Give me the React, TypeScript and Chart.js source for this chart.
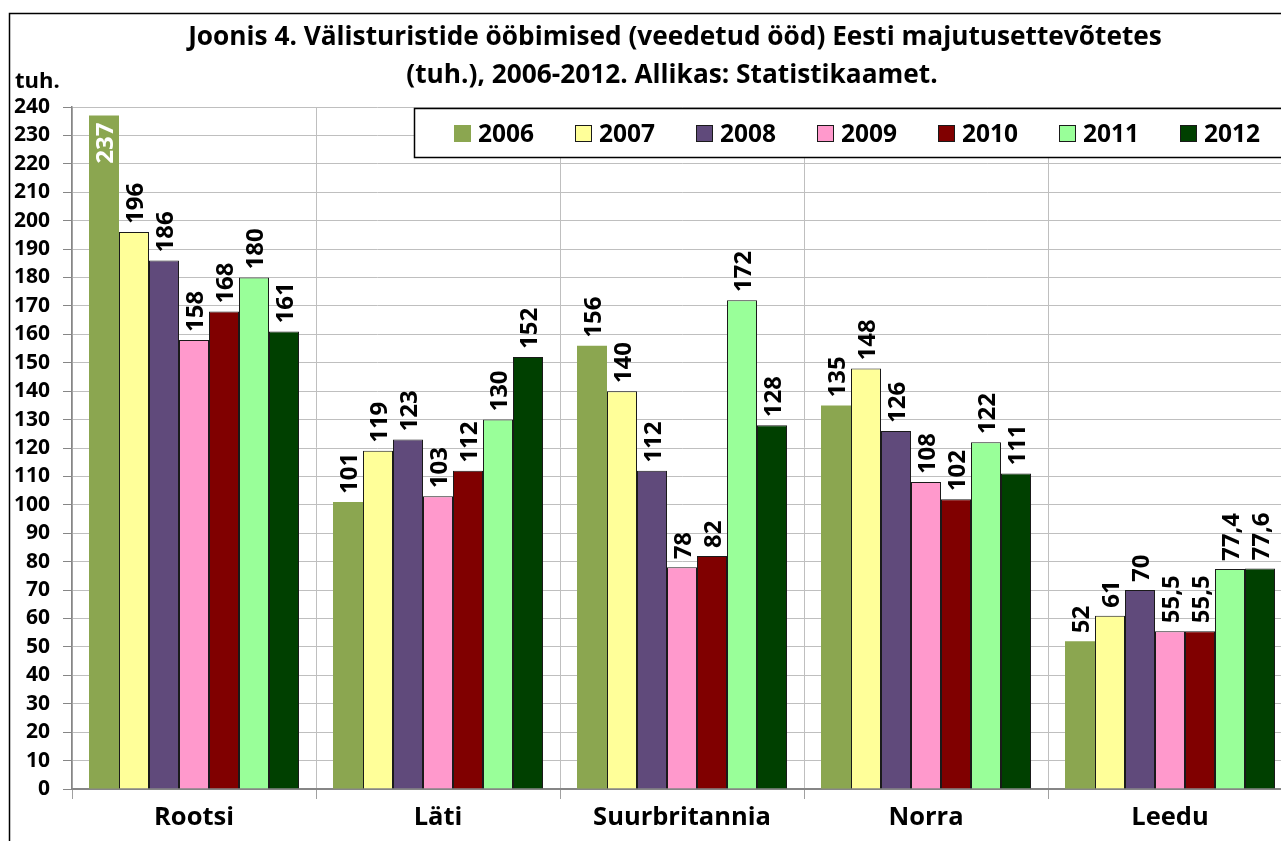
import React, { useEffect, useRef } from "react";
import { Chart, registerables } from "chart.js";

Chart.register(...registerables);

// ---------- data ----------
const categories = ["Rootsi", "Läti", "Suurbritannia", "Norra", "Leedu"];
const seriesLabels = ["2006", "2007", "2008", "2009", "2010", "2011", "2012"];
const values2006 = [237, 101, 156, 135, 52];
const values2007 = [196, 119, 140, 148, 61];
const values2008 = [186, 123, 112, 126, 70];
const values2009 = [158, 103, 78, 108, 55.5];
const values2010 = [168, 112, 82, 102, 55.5];
const values2011 = [180, 130, 172, 122, 77.4];
const values2012 = [161, 152, 128, 111, 77.6];
const seriesValues = [values2006, values2007, values2008, values2009, values2010, values2011, values2012];
const seriesColors = ["#8BA650", "#FFFF99", "#604A7B", "#FF99CC", "#800000", "#99FF99", "#004000"];
const seriesBorderWidths = [0, 1, 1, 1, 1, 1, 1];
const titleLines = [
  "Joonis 4. Välisturistide ööbimised (veedetud ööd) Eesti majutusettevõtetes",
  "(tuh.), 2006-2012. Allikas: Statistikaamet.",
];
const unitLabel = "tuh.";
const yMin = 0;
const yMax = 240;
const yStep = 10;

// ---------- layout ----------
const CANVAS_W = 1320;
const CANVAS_H = 841;
const FONT = "'Open Sans', Lato, sans-serif";

const formatValue = (v: number) =>
  Number.isInteger(v) ? String(v) : String(v).replace(".", ",");

const decorPlugin = {
  id: "decor",
  beforeDraw(chart: any) {
    const ctx = chart.ctx;
    ctx.save();
    ctx.fillStyle = "#ffffff";
    ctx.fillRect(0, 0, chart.width, chart.height);
    ctx.restore();
  },
  afterDatasetsDraw(chart: any) {
    const ctx = chart.ctx;
    const area = chart.chartArea;
    ctx.save();
    ctx.font = `bold 24px ${FONT}`;
    ctx.textAlign = "left";
    ctx.textBaseline = "alphabetic";
    const capHalf = 8.6;
    chart.data.datasets.forEach((ds: any, di: number) => {
      const meta = chart.getDatasetMeta(di);
      meta.data.forEach((bar: any, i: number) => {
        const text = formatValue(ds.data[i]);
        const w = ctx.measureText(text).width;
        let startY = bar.y - 8;
        let color = "#000000";
        if (startY - w < area.top) {
          startY = bar.y + 7 + w;
          color = "#ffffff";
        }
        ctx.save();
        ctx.translate(bar.x + capHalf, startY);
        ctx.rotate(-Math.PI / 2);
        ctx.fillStyle = color;
        ctx.fillText(text, 0, 0);
        ctx.restore();
      });
    });
    ctx.restore();
  },
  afterDraw(chart: any) {
    const ctx = chart.ctx;
    ctx.save();
    // title
    const base = 25;
    ctx.font = `bold ${base}px ${FONT}`;
    const w1 = ctx.measureText(titleLines[0]).width;
    const size = (base * 974) / w1;
    ctx.font = `bold ${size}px ${FONT}`;
    ctx.fillStyle = "#000";
    ctx.textAlign = "center";
    ctx.textBaseline = "alphabetic";
    ctx.fillText(titleLines[0], 675, 45);
    ctx.fillText(titleLines[1], 672, 83);

    // unit
    ctx.font = `bold 22px ${FONT}`;
    ctx.textAlign = "left";
    ctx.fillText(unitLabel, 15, 88);

    // legend
    ctx.fillStyle = "#ffffff";
    ctx.fillRect(414, 108, chart.width, 49);
    ctx.strokeStyle = "#000000";
    ctx.lineWidth = 1.5;
    ctx.strokeRect(414.5, 108.5, chart.width, 49);
    ctx.font = `bold 24.5px ${FONT}`;
    chart.data.datasets.forEach((ds: any, i: number) => {
      const x = 454 + i * 121;
      ctx.fillStyle = ds.backgroundColor;
      ctx.fillRect(x, 125, 17, 17);
      if (ds.borderWidth > 0) {
        ctx.strokeStyle = "#1a1a1a";
        ctx.lineWidth = 1;
        ctx.strokeRect(x + 0.5, 125.5, 16, 16);
      }
      ctx.fillStyle = "#000";
      ctx.textAlign = "left";
      ctx.fillText(ds.label, x + 24, 142);
    });

    // outer frame
    ctx.strokeStyle = "#000000";
    ctx.lineWidth = 1.5;
    ctx.beginPath();
    ctx.moveTo(9.5, chart.height);
    ctx.lineTo(9.5, 13.5);
    ctx.lineTo(chart.width, 13.5);
    ctx.stroke();
    ctx.restore();
  },
};

export default function App() {
  const canvasRef = useRef<HTMLCanvasElement | null>(null);

  useEffect(() => {
    if (!canvasRef.current) return;
    const chart = new Chart(canvasRef.current, {
      type: "bar",
      data: {
        labels: categories,
        datasets: seriesLabels.map((label, i) => ({
          label,
          data: seriesValues[i],
          backgroundColor: seriesColors[i],
          borderColor: "#1a1a1a",
          borderWidth: seriesBorderWidths[i],
          categoryPercentage: 210 / 244,
          barPercentage: 1,
        })),
      },
      options: {
        responsive: false,
        animation: false,
        layout: { padding: { left: 0, top: 107, right: CANVAS_W - 1292, bottom: 0 } },
        plugins: {
          legend: { display: false },
          title: { display: false },
          tooltip: { enabled: false },
        },
        scales: {
          x: {
            offset: true,
            grid: {
              offset: true,
              color: "#BFBFBF",
              lineWidth: 1,
              tickLength: 10,
              tickColor: "#A0A0A0",
            },
            border: { color: "#868686", width: 2 },
            ticks: {
              color: "#000",
              font: { family: FONT, size: 25.5, weight: "bold" },
              padding: 3,
              maxRotation: 0,
              autoSkip: false,
            },
            afterFit(scale: any) {
              scale.height = CANVAS_H - 789;
            },
          },
          y: {
            min: yMin,
            max: yMax,
            grid: {
              color: "#BFBFBF",
              lineWidth: 1,
              tickLength: 9,
              tickColor: "#868686",
            },
            border: { color: "#868686", width: 1.5 },
            ticks: {
              stepSize: yStep,
              color: "#000",
              font: { family: FONT, size: 21, weight: "bold" },
              padding: 13,
            },
            afterFit(scale: any) {
              scale.width = 72;
            },
          },
        },
      },
      plugins: [decorPlugin],
    });
    return () => chart.destroy();
  }, []);

  return (
    <div
      style={{
        position: "fixed",
        left: 0,
        top: 0,
        width: 1281,
        height: 841,
        overflow: "hidden",
        background: "#fff",
      }}
    >
      <canvas
        ref={canvasRef}
        width={CANVAS_W}
        height={CANVAS_H}
        style={{ position: "absolute", left: 0, top: 0, width: CANVAS_W, height: CANVAS_H }}
      />
    </div>
  );
}
